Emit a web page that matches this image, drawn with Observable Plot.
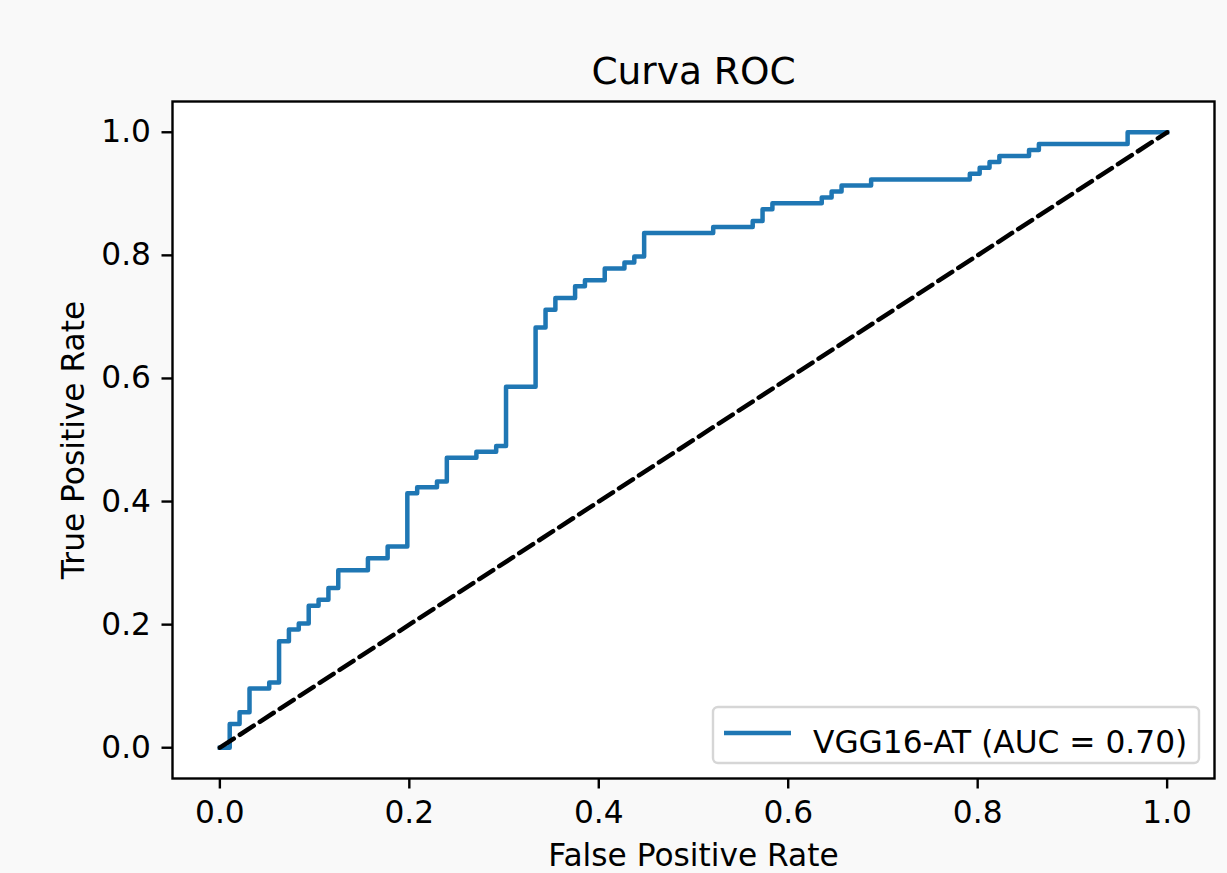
<!DOCTYPE html>
<html>
<head>
<meta charset="utf-8">
<script src="https://cdn.jsdelivr.net/npm/d3@7"></script>
<script src="https://cdn.jsdelivr.net/npm/@observablehq/plot@0.6"></script>
<style>
  html, body { margin: 0; padding: 0; background: #f9f9f9; overflow: hidden; }
  #chart svg { display: block; }
</style>
</head>
<body>
<div id="chart"></div>
<script>
// ROC curve vertices (False Positive Rate, True Positive Rate)
const fpr = [0, 0.0104, 0.0208, 0.0313, 0.0521, 0.0625, 0.0729, 0.0833, 0.0938, 0.1042,
  0.1146, 0.125, 0.1563, 0.1771, 0.1979, 0.2083, 0.2292, 0.2396, 0.2708, 0.2917,
  0.3021, 0.3333, 0.3438, 0.3542, 0.375, 0.3854, 0.4063, 0.4271, 0.4375, 0.4479,
  0.5208, 0.5625, 0.5729, 0.5833, 0.6354, 0.6458, 0.6563, 0.6875, 0.7917, 0.8021,
  0.8125, 0.8229, 0.8542, 0.8646, 0.9583, 1.0];
const tpr = [0, 0.0385, 0.0577, 0.0962, 0.1058, 0.1731, 0.1923, 0.2019, 0.2308, 0.2404,
  0.2596, 0.2885, 0.3077, 0.3269, 0.4135, 0.4231, 0.4327, 0.4712, 0.4808, 0.4904,
  0.5865, 0.6827, 0.7115, 0.7308, 0.75, 0.7596, 0.7788, 0.7885, 0.7981, 0.8365,
  0.8462, 0.8558, 0.875, 0.8846, 0.8942, 0.9038, 0.9135, 0.9231, 0.9327, 0.9423,
  0.9519, 0.9615, 0.9712, 0.9808, 1.0, 1.0];
// chance diagonal
const diagX = [0, 1];
const diagY = [0, 1];
// ticks and texts
const xTicks = [0, 0.2, 0.4, 0.6, 0.8, 1.0];
const yTicks = [0, 0.2, 0.4, 0.6, 0.8, 1.0];
const title = "Curva ROC";
const xLabel = "False Positive Rate";
const yLabel = "True Positive Rate";
const seriesName = "VGG16-AT";
const auc = 0.70;

const roc = fpr.map((f, i) => ({fpr: f, tpr: tpr[i]}));
const diag = diagX.map((d, i) => ({x: d, y: diagY[i]}));

const W = 1227, H = 873;
const mL = 172, mR = 13, mT = 101, mB = 95;
const FS = 31.25;
const blue = "#1f77b4";

const chart = Plot.plot({
  width: W, height: H,
  marginLeft: mL, marginRight: mR, marginTop: mT, marginBottom: mB,
  style: {fontFamily: "'DejaVu Sans', sans-serif", fontSize: FS + "px", background: "#f9f9f9", color: "black"},
  x: {domain: [-0.05, 1.05]},
  y: {domain: [-0.05, 1.05]},
  marks: [
    Plot.frame({fill: "white", stroke: "none"}),
    Plot.line(roc, {x: "fpr", y: "tpr", curve: "step-after", stroke: blue, strokeWidth: 4.5,
      strokeLinejoin: "round", strokeLinecap: "square"}),
    Plot.line(diag, {x: "x", y: "y", stroke: "black", strokeWidth: 4.5, strokeDasharray: "16.6,7.2"}),
    Plot.frame({stroke: "black", strokeWidth: 2.4}),
    Plot.axisX({ticks: xTicks, tickFormat: d3.format(".1f"), tickSize: 10.5, tickPadding: 12,
      strokeWidth: 2.4, label: null, fontSize: FS}),
    Plot.axisY({ticks: yTicks, tickFormat: d3.format(".1f"), tickSize: 10.5, tickPadding: 11,
      strokeWidth: 2.4, label: null, fontSize: FS}),
    Plot.text([title], {frameAnchor: "top", dy: -18, lineAnchor: "bottom", textAnchor: "middle", fontSize: 37.5}),
    Plot.text([xLabel], {frameAnchor: "bottom", dy: 87, lineAnchor: "bottom", textAnchor: "middle", fontSize: FS}),
    Plot.text([yLabel], {frameAnchor: "left", dx: -89, rotate: -90, lineAnchor: "bottom", textAnchor: "middle", fontSize: FS})
  ]
});

document.getElementById("chart").appendChild(chart);

// Legend (lower right, inside axes)
const svg = d3.select(chart);
const pad = 15;
const boxW = 486, boxH = 56;
const bx = W - mR - pad - boxW;
const by = H - mB - pad - boxH;
const lg = svg.append("g").attr("class", "legend");
lg.append("rect")
  .attr("x", bx).attr("y", by).attr("width", boxW).attr("height", boxH)
  .attr("rx", 5).attr("ry", 5)
  .attr("fill", "white").attr("fill-opacity", 0.8)
  .attr("stroke", "#cccccc").attr("stroke-opacity", 0.8).attr("stroke-width", 2.4);
lg.append("line")
  .attr("x1", bx + 11).attr("x2", bx + 78)
  .attr("y1", by + 26).attr("y2", by + 26)
  .attr("stroke", blue).attr("stroke-width", 4.5);
lg.append("text")
  .attr("x", bx + 100).attr("y", by + 46)
  .attr("font-family", "'DejaVu Sans', sans-serif").attr("font-size", FS)
  .attr("text-anchor", "start").attr("fill", "black")
  .text(`${seriesName} (AUC = ${auc.toFixed(2)})`);
</script>
</body>
</html>
